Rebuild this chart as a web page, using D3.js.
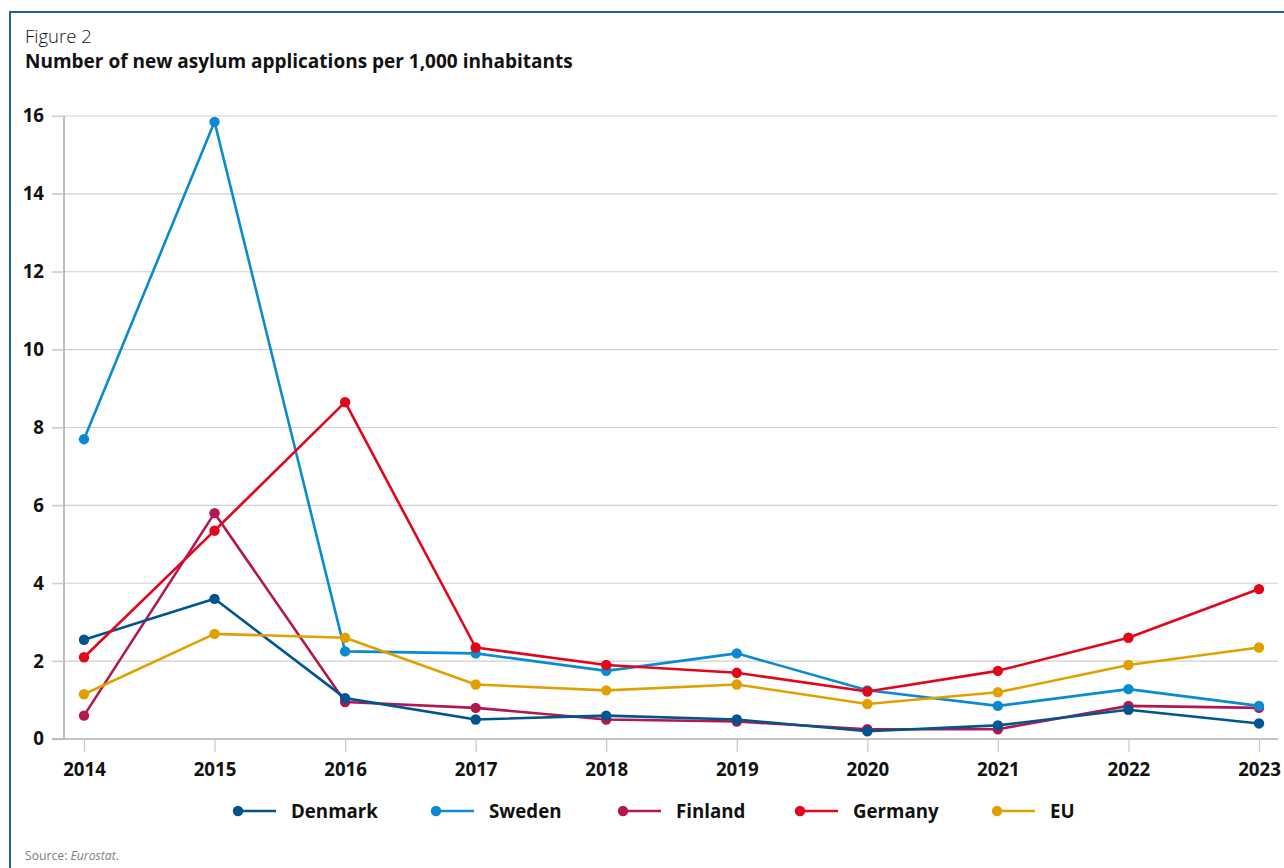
<!DOCTYPE html>
<html>
<head>
<meta charset="utf-8">
<script src="https://cdn.jsdelivr.net/npm/d3@7"></script>
<style>
  html, body { margin: 0; padding: 0; background: #fff; }
  svg { display: block; }
  text { font-family: "Open Sans", "Noto Sans", sans-serif; }
</style>
</head>
<body>
<svg id="chart" width="1284" height="868"></svg>
<script>
// Years on the x axis
const years = [2014, 2015, 2016, 2017, 2018, 2019, 2020, 2021, 2022, 2023];

// New asylum applications per 1,000 inhabitants
const denmark = [2.55, 3.6, 1.05, 0.5, 0.6, 0.5, 0.2, 0.35, 0.75, 0.4];
const sweden  = [7.7, 15.85, 2.25, 2.2, 1.75, 2.2, 1.25, 0.85, 1.28, 0.85];
const finland = [0.6, 5.8, 0.95, 0.8, 0.5, 0.45, 0.25, 0.25, 0.85, 0.8];
const germany = [2.1, 5.35, 8.65, 2.35, 1.9, 1.7, 1.22, 1.75, 2.6, 3.85];
const eu      = [1.15, 2.7, 2.6, 1.4, 1.25, 1.4, 0.9, 1.2, 1.9, 2.35];

const yTicks = [0, 2, 4, 6, 8, 10, 12, 14, 16];

const seriesNames  = ["Denmark", "Sweden", "Finland", "Germany", "EU"];
const seriesColors = ["#00548f", "#0a8ad0", "#b3174f", "#e3061a", "#e0a000"];
const seriesValues = [denmark, sweden, finland, germany, eu];

const series = seriesNames.map((name, i) => ({
  name, color: seriesColors[i], values: seriesValues[i]
}));

// Stacking order of the lines (later ones on top)
const drawOrder = ["Finland", "Sweden", "Denmark", "Germany", "EU"];

const svg = d3.select("#chart");

// Frame: blue rule along the top and left edge
svg.append("line").attr("x1", 9).attr("x2", 1284).attr("y1", 12).attr("y2", 12)
  .attr("stroke", "#1d62a6").attr("stroke-width", 2);
svg.append("line").attr("x1", 10).attr("x2", 10).attr("y1", 11).attr("y2", 868)
  .attr("stroke", "#1d62a6").attr("stroke-width", 2);

// Headings
svg.append("text").attr("x", 25).attr("y", 43)
  .attr("font-size", 18.5).attr("font-weight", 300).attr("fill", "#111")
  .text("Figure 2");
svg.append("text").attr("x", 25).attr("y", 67.5)
  .attr("font-size", 19).attr("font-weight", 700).attr("fill", "#111")
  .text("Number of new asylum applications per 1,000 inhabitants");

// Scales
const x = d3.scalePoint().domain(years).range([84, 1259]);
const y = d3.scaleLinear().domain([0, 16]).range([739, 116]);

// Horizontal grid lines
const grid = svg.append("g");
grid.selectAll("line").data(yTicks.filter(t => t > 0)).join("line")
  .attr("x1", 52).attr("x2", 1278)
  .attr("y1", d => y(d)).attr("y2", d => y(d))
  .attr("stroke", "#cfcfcf").attr("stroke-width", 1.2);

// Y axis
const yAxis = svg.append("g").attr("transform", "translate(64,0)")
  .call(d3.axisLeft(y).tickValues(yTicks).tickSize(12).tickPadding(8));
yAxis.select(".domain").attr("stroke", "#a8a8a8").attr("stroke-width", 1.5)
  .attr("d", `M0,${y(16)}V${y(0)}`);
yAxis.selectAll(".tick line").attr("stroke", "#cfcfcf").attr("stroke-width", 1.2);
yAxis.selectAll(".tick text")
  .attr("font-size", 18.7).attr("font-weight", 700).attr("fill", "#111")
  .attr("font-family", "\"Open Sans\", sans-serif");

// X axis
const xAxis = svg.append("g").attr("transform", `translate(0,${y(0)})`)
  .call(d3.axisBottom(x).tickSize(13).tickPadding(11));
xAxis.select(".domain").attr("stroke", "#b0b0b0").attr("stroke-width", 1.5)
  .attr("d", "M52,0H1278");
xAxis.selectAll(".tick line").attr("stroke", "#c8c8c8").attr("stroke-width", 1.2);
xAxis.selectAll(".tick text")
  .attr("font-size", 18.7).attr("font-weight", 700).attr("fill", "#111")
  .attr("font-family", "\"Open Sans\", sans-serif");

// Lines and markers
const line = d3.line().x((d, i) => x(years[i])).y(d => y(d));
const ordered = drawOrder.map(n => series.find(s => s.name === n));

const layers = svg.append("g").selectAll("g").data(ordered).join("g");
layers.append("path")
  .attr("d", d => line(d.values))
  .attr("fill", "none").attr("stroke", d => d.color)
  .attr("stroke-width", 2.6).attr("stroke-linejoin", "round");
layers.selectAll("circle").data(d => d.values.map((v, i) => ({v, i, color: d.color})))
  .join("circle")
  .attr("cx", d => x(years[d.i])).attr("cy", d => y(d.v))
  .attr("r", 5.2).attr("fill", d => d.color);

// Legend
const legendX = [238, 436, 623, 800, 997];
const legend = svg.append("g").selectAll("g").data(series).join("g")
  .attr("transform", (d, i) => `translate(${legendX[i]},811)`);
legend.append("line").attr("x1", 0).attr("x2", 38).attr("y1", 0).attr("y2", 0)
  .attr("stroke", d => d.color).attr("stroke-width", 2.6);
legend.append("circle").attr("r", 5.2).attr("fill", d => d.color);
legend.append("text").attr("x", 53).attr("y", 0).attr("dy", "0.35em")
  .attr("font-size", 18.7).attr("font-weight", 700).attr("fill", "#111")
  .text(d => d.name);

// Source note
const src = svg.append("text").attr("x", 25).attr("y", 860)
  .attr("font-size", 12.2).attr("fill", "#808080");
src.append("tspan").text("Source: ");
src.append("tspan").attr("font-style", "italic").text("Eurostat");
src.append("tspan").text(".");
</script>
</body>
</html>
